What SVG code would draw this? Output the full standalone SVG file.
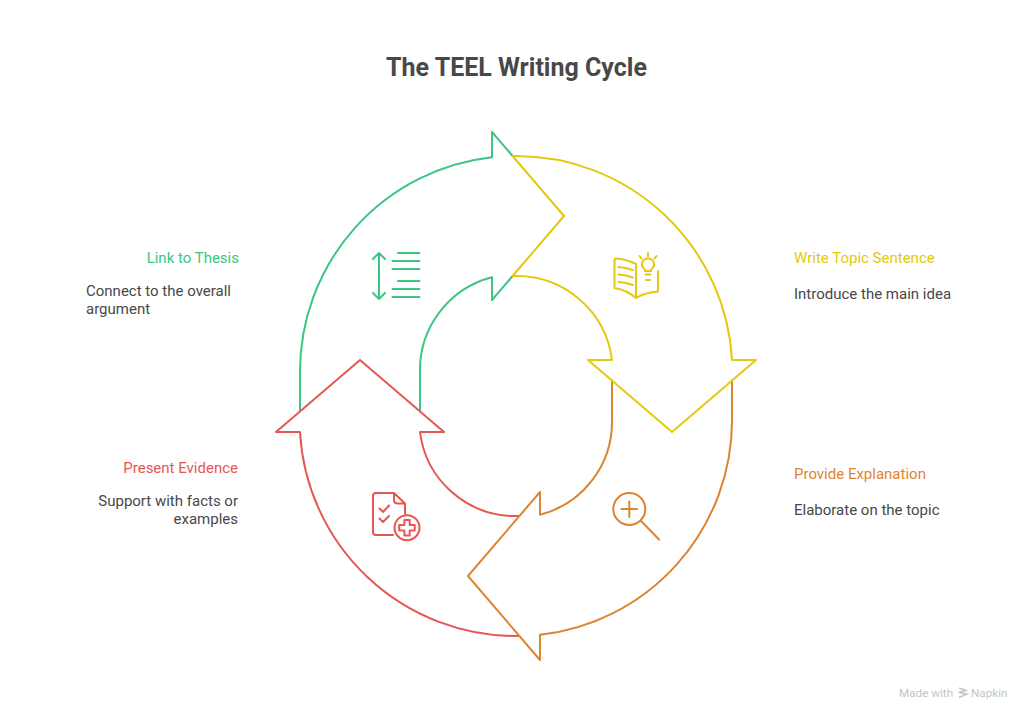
<svg xmlns="http://www.w3.org/2000/svg" width="1032" height="721" viewBox="0 0 1032 721">
<style>
.f{fill:none;stroke-width:2;stroke-linecap:round;stroke-linejoin:round}
.g{stroke:#3cc583}.y{stroke:#e3c90f}.o{stroke:#de8431}.r{stroke:#e55753}
text{font-family:Roboto,"Liberation Sans",sans-serif}
.t{font-size:15px;fill:#484848}
.h{font-size:15px}
</style>
<rect width="1032" height="721" fill="#fff"/>
<text x="516.500" y="75.500" text-anchor="middle" style="font-size:25px;font-weight:700;fill:#484848">The TEEL Writing Cycle</text>
<g id="connectors">
<path class="f g" d="M300 410V372A216 216 0 0 1 492 157.200V132L512.600 156M512.600 276L492 300V277.200A96 96 0 0 0 420 372V410"/>
<path class="f r" d="M519.400 636H516A216 216 0 0 1 300 432H276L360 360L444 432H420A96 96 0 0 0 516 516H519.400"/>
<path class="f o" d="M732 380V420A216 216 0 0 1 540 634.800V660L468 576L540 492V514.800A96 96 0 0 0 612 420V380"/>
<path class="f y" d="M512.600 156H516A216 216 0 0 1 732 360H756L672 432L588 360H612A96 96 0 0 0 516 276H512.600L564 216Z"/>
</g>
<g id="node-topic">
<path class="f y" d="M636 264Q626 259 616 258.500Q614.500 258.500 614.500 260V288Q627 290 636 298Q645 292.500 658 291.500V271M636 264V296"/>
<path class="f y" d="M618.500 267Q626 267.500 633 270M618.500 274.500Q626 275 633 277.500M618.500 282Q626 282.500 633 285"/>
<path class="f y" d="M645 271V269.500A6 6 0 1 1 651 269.500V271ZM645.500 274.500H650.500M646 280H650M648 253V256M639.500 256L641.500 258.500M656.500 256L654.500 258.500"/>
<text class="h" x="794" y="263" fill="#e3c90f">Write Topic Sentence</text>
<text class="t" x="794" y="299">Introduce the main idea</text>
</g>
<g id="node-explanation">
<circle class="f o" cx="629.300" cy="509" r="16"/>
<path class="f o" d="M621.500 509H637M629.300 501.500V517M641 521L659 539.500"/>
<text class="h" x="794" y="479" fill="#de8431">Provide Explanation</text>
<text class="t" x="794" y="515">Elaborate on the topic</text>
</g>
<g id="node-evidence">
<path class="f r" d="M394 493H376Q373 493 373 496V532Q373 535 376 535H393M394 493L405 503.500V514M394 493V500Q394 503.500 398 503.500H405"/>
<path class="f r" d="M379.500 508.500L383 512L389 505.500M379.500 518.500L383 522L389 516"/>
<circle class="f r" cx="407" cy="527.700" r="12.500"/>
<path class="f r" d="M404.400 520H409.700V525H414.700V530.400H409.700V535.500H404.400V530.400H399.200V525H404.400Z"/>
<text class="h" x="238" y="473" text-anchor="end" fill="#e55753">Present Evidence</text>
<text class="t" x="238" y="506" text-anchor="end">Support with facts or</text>
<text class="t" x="238" y="524" text-anchor="end">examples</text>
</g>
<g id="node-link">
<path class="f g" d="M379 253V299M373 259L379 253L385 259M373 293L379 299L385 293M398 253H419.500M392.500 261H419.500M392.500 269H419.500M398 281H419.500M392.500 289H419.500M392.500 297H419.500"/>
<text class="h" x="239" y="263" text-anchor="end" fill="#3cc583">Link to Thesis</text>
<text class="t" x="86" y="296">Connect to the overall</text>
<text class="t" x="86" y="314">argument</text>
</g>
<g id="credit">
<text x="899" y="697" style="font-size:11.700px;fill:#c4c4c4">Made with</text>
<path d="M959 688L966 690.500L959 692.500L967 694L959 697.500" fill="none" stroke="#c4c4c4" stroke-width="1.500"/>
<text x="971" y="697" style="font-size:11.700px;fill:#c4c4c4">Napkin</text>
</g>
</svg>
